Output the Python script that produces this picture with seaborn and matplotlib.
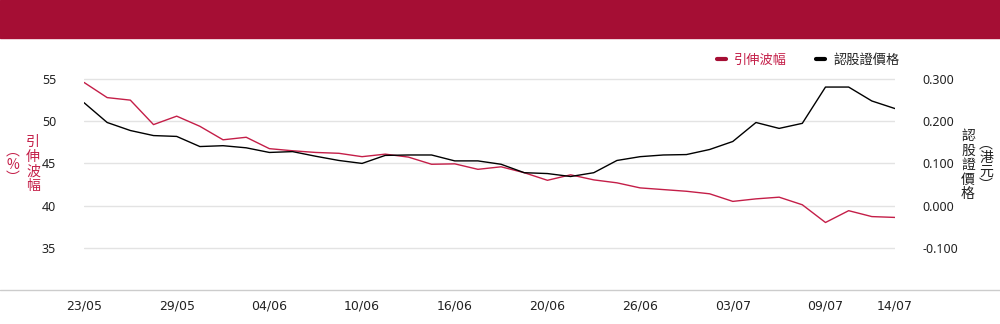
import matplotlib
matplotlib.use("Agg")
import matplotlib.pyplot as plt
from matplotlib.lines import Line2D
import seaborn as sns
import pandas as pd

dates = ["23/05", "24/05", "25/05", "26/05", "29/05", "30/05", "31/05", "01/06",
         "04/06", "05/06", "06/06", "07/06", "10/06", "11/06", "12/06", "13/06",
         "16/06", "17/06", "18/06", "19/06", "20/06", "23/06", "24/06", "25/06",
         "26/06", "27/06", "30/06", "02/07", "03/07", "04/07", "07/07", "08/07",
         "09/07", "10/07", "11/07", "14/07"]
tick_labels = ["23/05", "29/05", "04/06", "10/06", "16/06", "20/06", "26/06",
               "03/07", "09/07", "14/07"]
implied_vol = [54.6, 52.8, 52.5, 49.6, 50.6, 49.4, 47.8, 48.1,
               46.75, 46.5, 46.3, 46.2, 45.8, 46.1, 45.75, 44.9,
               44.95, 44.3, 44.6, 43.9, 43.0, 43.65, 43.05, 42.7,
               42.1, 41.9, 41.7, 41.4, 40.5, 40.8, 41.0, 40.1,
               38.0, 39.4, 38.7, 38.6]
warrant_price = [0.244, 0.197, 0.178, 0.166, 0.164, 0.140, 0.142, 0.137,
                 0.126, 0.128, 0.117, 0.107, 0.100, 0.119, 0.120, 0.120,
                 0.106, 0.106, 0.098, 0.078, 0.076, 0.069, 0.078, 0.107,
                 0.116, 0.120, 0.121, 0.133, 0.152, 0.197, 0.183, 0.195,
                 0.281, 0.281, 0.248, 0.230]
left_ticks = [35, 40, 45, 50, 55]
right_ticks = [-0.1, 0.0, 0.1, 0.2, 0.3]

RED = "#C41E48"
BANNER = "#A50E34"
CJK = ["Noto Sans CJK TC", "DejaVu Sans"]

sns.set_theme(style="white")
plt.rcParams["font.family"] = ["Noto Sans", "Noto Sans CJK TC", "DejaVu Sans"]

df = pd.DataFrame({"idx": range(len(dates)), "date": dates,
                   "vol": implied_vol, "price": warrant_price})

fig = plt.figure(figsize=(10, 3.24), dpi=100)
fig.patch.set_facecolor("white")

# top banner
fig.patches.append(plt.Rectangle((0, 1 - 38 / 324), 1, 38 / 324,
                                 transform=fig.transFigure, color=BANNER, zorder=0))
# bottom full-width axis line
fig.add_artist(Line2D([0, 1], [1 - 290 / 324, 1 - 290 / 324],
                      transform=fig.transFigure, color="#cccccc", lw=1))

ax = fig.add_axes([0.084, 1 - 290 / 324, 0.811, (290 - 70.6) / 324])
ax2 = ax.twinx()

sns.lineplot(data=df, x="idx", y="vol", ax=ax, color=RED, lw=1.0)
sns.lineplot(data=df, x="idx", y="price", ax=ax2, color="black", lw=1.0)

ax.set_xlim(0, len(dates) - 1)
ax.set_ylim(30, 56)
ax2.set_ylim(-0.2, 0.32)

ax.set_yticks(left_ticks)
ax.set_yticklabels([str(v) for v in left_ticks], fontsize=9, color="#222222")
ax2.set_yticks(right_ticks)
ax2.set_yticklabels([f"{v:.3f}" for v in right_ticks], fontsize=9, color="#222222")

tick_pos = [dates.index(t) for t in tick_labels]
ax.set_xticks(tick_pos)
ax.set_xticklabels(tick_labels, fontsize=9, color="#222222",
                   family=["Liberation Sans Narrow", "DejaVu Sans"])
ax.tick_params(axis="x", length=0, pad=7)
ax.tick_params(axis="y", length=0, pad=20)
ax2.tick_params(axis="y", length=0, pad=20)

ax.grid(axis="y", color="#e3e3e3", lw=1)
ax.grid(axis="x", visible=False)
ax2.grid(False)
ax.set_xlabel("")
ax.set_ylabel("")
ax2.set_ylabel("")
for a in (ax, ax2):
    for s in a.spines.values():
        s.set_visible(False)

# axis titles (vertical writing)
fig.text(33 / 1000, 1 - 164 / 324, "\n".join("引伸波幅"), color=RED, fontsize=10,
         family=CJK, ha="center", va="center", linespacing=1.05)
fig.text(13 / 1000, 1 - 165 / 324, "\n".join(["︵", "%", "︶"]), color=RED, fontsize=10,
         family=CJK, ha="center", va="center", linespacing=0.95)
fig.text(968 / 1000, 1 - 165 / 324, "\n".join("認股證價格"), color="#222222", fontsize=10,
         family=CJK, ha="center", va="center", linespacing=1.05)
fig.text(986 / 1000, 1 - 165 / 324, "\n".join(["︵", "港", "元", "︶"]), color="#222222",
         fontsize=10, family=CJK, ha="center", va="center", linespacing=0.95)

# legend
handles = [Line2D([], [], color=BANNER, lw=3), Line2D([], [], color="black", lw=3)]
leg = fig.legend(handles, ["引伸波幅", "認股證價格"], loc="center",
                 bbox_to_anchor=(808 / 1000, 1 - 60 / 324), ncol=2, frameon=False,
                 handlelength=0.7, handletextpad=0.6, columnspacing=2.2,
                 prop={"family": CJK, "size": 9.5})
leg.get_texts()[0].set_color(RED)
leg.get_texts()[1].set_color("#222222")

fig.savefig("out.png", dpi=100, facecolor="white")
